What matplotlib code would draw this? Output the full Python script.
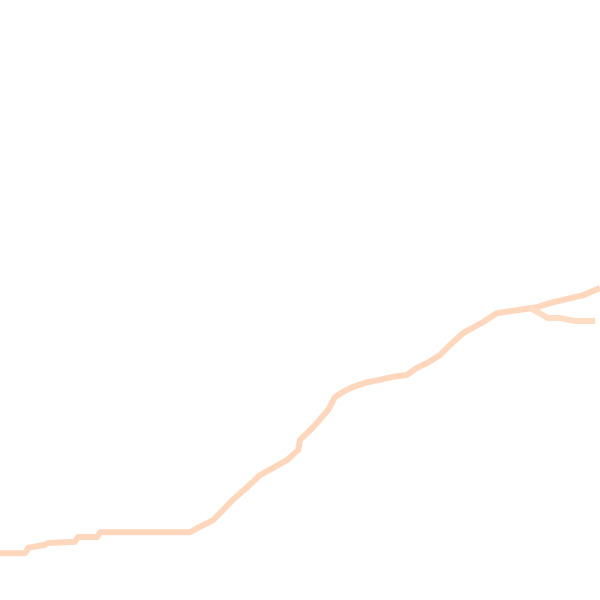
import numpy as np
import matplotlib.pyplot as plt

# Values (x, y on a 0-100 scale)
x_main = [0, 4.2, 4.7, 7.5, 8, 12.5, 13, 16.2, 16.7, 31.7, 33.3, 35.5, 36.7,
          38.8, 41.2, 43.3, 45.5, 47.8, 49.7, 50, 51.7, 52.8, 54.7, 55.3, 55.8,
          57.2, 58.8, 61.2, 63.3, 65.5, 67.8, 69.5, 71.2, 73.3, 75, 77.2, 80.5,
          82.8, 86.2, 89.5, 91.7, 93.8, 97.2, 100]
y_main = [7.8, 7.8, 8.7, 9.2, 9.5, 9.7, 10.5, 10.5, 11.3, 11.3, 12.2, 13.3, 14.5,
          16.7, 18.8, 20.8, 22, 23.3, 25, 26.7, 28.3, 29.5, 31.7, 32.8, 33.8,
          34.7, 35.5, 36.3, 36.7, 37.2, 37.5, 38.7, 39.5, 40.8, 42.5, 44.5, 46.3,
          47.8, 48.3, 48.8, 49.5, 50, 50.8, 52]

x_branch = [88.3, 91.3, 93.3, 95.8, 99.2]
y_branch = [48.7, 47, 47, 46.5, 46.5]

fig = plt.figure(figsize=(6, 6), dpi=100)
ax = fig.add_axes([0, 0, 1, 1])
ax.plot(x_main, y_main, color='#ffd7bd', linewidth=4.3, solid_capstyle='butt')
ax.plot(x_branch, y_branch, color='#ffdcc4', linewidth=4.3, solid_capstyle='butt')
ax.set_xlim(0, 100)
ax.set_ylim(0, 100)
ax.axis('off')

plt.savefig('out.png', dpi=100)
